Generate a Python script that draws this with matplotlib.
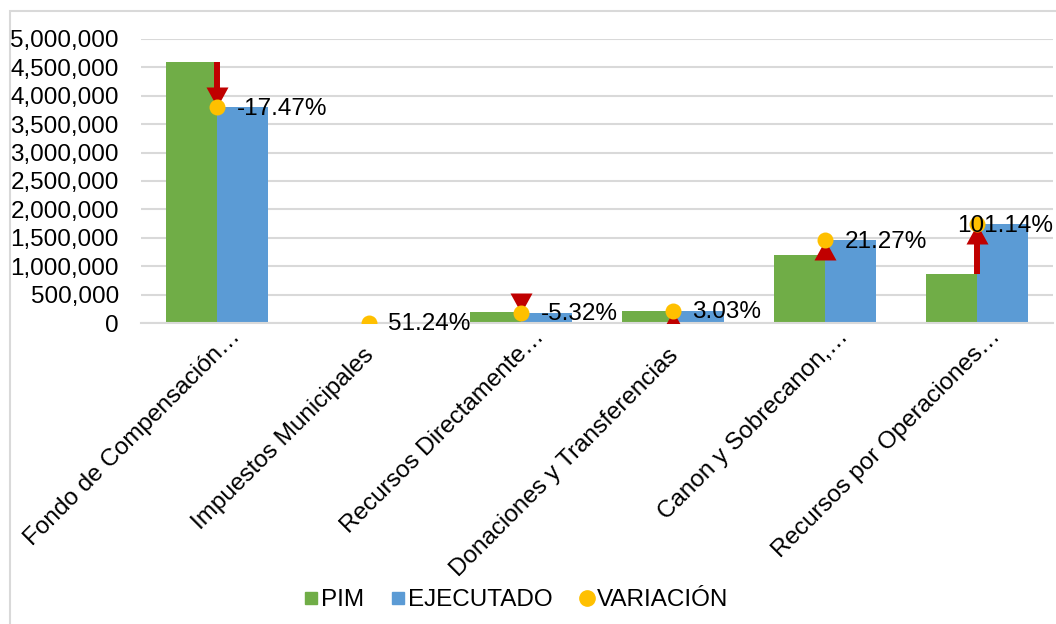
import numpy as np
import matplotlib
matplotlib.use("Agg")
import matplotlib.pyplot as plt
from matplotlib.path import Path
from matplotlib.patches import Rectangle
from matplotlib.lines import Line2D
from matplotlib.ticker import FuncFormatter
from matplotlib.transforms import offset_copy

plt.rcParams['font.family'] = ['Liberation Sans', 'DejaVu Sans']

categories = ["Fondo de Compensación…", "Impuestos Municipales", "Recursos Directamente…",
              "Donaciones y Transferencias", "Canon y Sobrecanon,…", "Recursos por Operaciones…"]
pim = [4600000, 2500, 190000, 205000, 1200000, 865000]
ejecutado = [3796000, 3781, 179900, 211200, 1455000, 1740000]
variacion = ["-17.47%", "51.24%", "-5.32%", "3.03%", "21.27%", "101.14%"]

green = "#70AD47"
blue = "#5B9BD5"
gold = "#FFC000"
red = "#C00000"
grid = "#D9D9D9"
fs = 17.5

fig = plt.figure(figsize=(10.56, 6.24), dpi=100)
ax = fig.add_axes([141 / 1056, 1 - 323 / 624, 912 / 1056, 284 / 624])

x = np.arange(len(categories))
w = 1 / 3
ax.bar(x - w / 2, pim, w, color=green, zorder=2)
ax.bar(x + w / 2, ejecutado, w, color=blue, zorder=2)

# arrow heads with the tip at the origin
up_head = Path([(0, 0), (-0.55, -1), (0.55, -1), (0, 0)])
down_head = Path([(0, 0), (-0.55, 1), (0.55, 1), (0, 0)])
for i in range(len(categories)):
    d = ejecutado[i] - pim[i]
    if abs(d) < 2000:
        continue
    ax.plot([x[i], x[i]], [pim[i], ejecutado[i]], color=red, lw=4.3,
            solid_capstyle='butt', zorder=3)
    ax.plot(x[i], ejecutado[i], marker=up_head if d > 0 else down_head,
            ms=28.8, color=red, mec='none', zorder=3)

ax.plot(x, ejecutado, 'o', color=gold, ms=11.5, mec='none', zorder=4)

for i in range(len(categories)):
    dx = -14 if i == len(categories) - 1 else 14
    ax.annotate(variacion[i], (x[i], ejecutado[i]), xytext=(dx, -1),
                textcoords='offset points', ha='left', va='center', fontsize=fs, zorder=5)

ax.set_xlim(-0.5, len(categories) - 0.5)
ax.set_ylim(0, 5000000)
ax.set_yticks(np.arange(0, 5000001, 500000))
ax.yaxis.set_major_formatter(FuncFormatter(lambda v, p: f"{int(v):,}"))
ax.grid(axis='y', color=grid, lw=1.5, zorder=0)
ax.set_axisbelow(True)
for s in ['top', 'right', 'left']:
    ax.spines[s].set_visible(False)
ax.spines['bottom'].set_color(grid)
ax.spines['bottom'].set_linewidth(1.5)
ax.tick_params(axis='y', length=0, labelsize=fs, pad=16)
ax.tick_params(axis='x', length=0, labelsize=fs, pad=8)
ax.set_xticks(x)
ax.set_xticklabels(categories, rotation=45, ha='right', va='top', rotation_mode='anchor')
for lbl in ax.get_xticklabels():
    extra = 18 if lbl.get_text().endswith("…") else 0
    lbl.set_transform(offset_copy(lbl.get_transform(), fig=fig, x=-6 + extra, y=-10 + extra,
                                  units='dots'))

handles = [Line2D([], [], ls='none', marker='s', ms=8.5, color=green),
           Line2D([], [], ls='none', marker='s', ms=8.5, color=blue),
           Line2D([], [], ls='none', marker='o', ms=11, color=gold)]
ax.legend(handles, ["PIM", "EJECUTADO", "VARIACIÓN"], loc='center',
          bbox_to_anchor=(516 / 1056, 1 - 600 / 624), bbox_transform=fig.transFigure,
          ncol=3, frameon=False, fontsize=fs, handlelength=0.6, handletextpad=0.1,
          columnspacing=1.1)

fig.patches.append(Rectangle((10 / 1056, -0.1), 1.2, 1.1 - 11 / 624, transform=fig.transFigure,
                             fill=False, edgecolor=grid, lw=1.5))

fig.savefig("out.png", dpi=100)
